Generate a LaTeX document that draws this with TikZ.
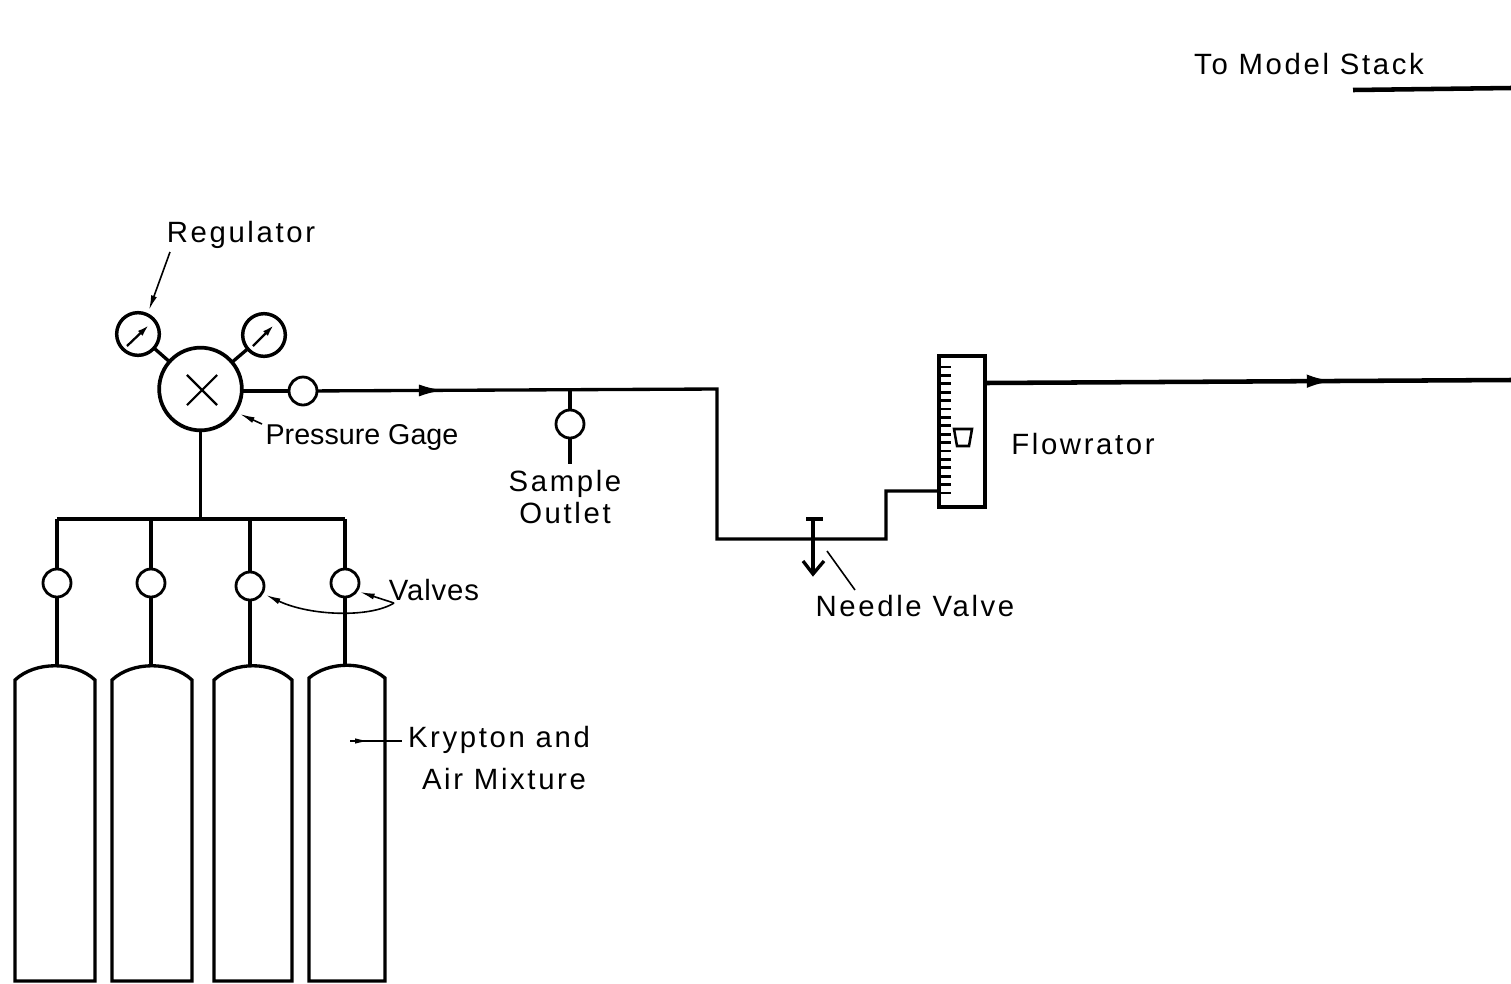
\documentclass[tikz,border=0pt]{standalone}
\usepackage{fontspec}
\setmainfont[LetterSpace=9]{Liberation Sans}
\usetikzlibrary{arrows.meta,shapes.misc,decorations.markings}
\tikzset{
  pipe/.style={line width=2.5pt},
  mainpipe/.style={line width=3.4pt},
  leader/.style={line width=1.2pt},
  leaderarrow/.style={line width=1.2pt,-{Latex[length=11pt,width=4.5pt]}},
  valvenode/.style={draw,circle,line width=2.1pt,minimum size=21pt,inner sep=0pt,outer sep=0pt},
  gaugenode/.style={draw,circle,line width=2.6pt,minimum size=32pt,inner sep=0pt,outer sep=0pt},
  needle/.style={line width=1.7pt,-{Latex[length=9pt,width=5pt]}},
  tickmark/.style={line width=2pt},
  labeltext/.style={font=\fontsize{22}{24}\selectfont,inner sep=0pt,align=center},
  flowmark/.style n args={3}{postaction={decorate},decoration={markings,mark=at position #1 with {\arrow{Latex[length=#2,width=#3]}}}}
}
\begin{document}
\begin{tikzpicture}[x=0.75pt,y=0.75pt,yscale=-1,xscale=1]
\useasboundingbox (0,0) rectangle (1511,983);

%Shape: Regulator and gages
\node [draw,circle,line width=2.8pt,minimum size=62pt,inner sep=0pt,outer sep=0pt] (regulator) at (200.5,389) {};
\node [draw,cross out,line width=1.6pt,minimum size=21pt,inner sep=0pt] (regcross) at (202,390) {};
\node [gaugenode] (gaugeL) at (138,334) {};
\node [gaugenode] (gaugeR) at (264,335) {};
\draw [pipe] (regulator) -- (gaugeL);
\draw [pipe] (regulator) -- (gaugeR);
\coordinate (needleLa) at (127,346);
\coordinate (needleLb) at (149,325);
\coordinate (needleRa) at (253,346);
\coordinate (needleRb) at (274,325);
\draw [needle] (needleLa) -- (needleLb);
\draw [needle] (needleRa) -- (needleRb);

%Shape: Outlet line
\node [valvenode] (valveOut) at (303,391) {};
\node [valvenode] (valveSample) at (570,424) {};
\coordinate (teeSample) at (570,389);
\coordinate (sampleEnd) at (570,464);
\coordinate (bendA) at (717,389);
\coordinate (bendB) at (717,539);
\coordinate (bendC) at (886,539);
\coordinate (bendD) at (886,491);
\coordinate (flowIn) at (940,491);
\draw [pipe] (regulator.east |- valveOut) -- (valveOut);
\draw [pipe,flowmark={0.155}{19pt}{9pt}] (valveOut) -- (bendA) -- (bendB) -- (bendC) -- (bendD) -- (flowIn);
\draw [pipe] (teeSample) -- (valveSample);
\draw [pipe] (valveSample) -- (sampleEnd);

%Shape: Needle valve
\coordinate (needleTop) at (813,519);
\coordinate (needleEnd) at (813,574);
\coordinate (needleBarL) at (806,519);
\coordinate (needleBarR) at (823,519);
\coordinate (needleHeadL) at (803,561);
\coordinate (needleHeadR) at (824,561);
\draw [pipe] (needleBarL) -- (needleBarR);
\draw [pipe] (needleTop) -- (needleEnd);
\draw [pipe] (needleHeadL) -- (needleEnd) -- (needleHeadR);

%Shape: Flowrator
\coordinate (flowTL) at (939,356);
\coordinate (flowBR) at (985,507);
\draw [line width=2.4pt] (flowTL) rectangle (flowBR);
\foreach \tickY in {367,375.4,...,494}
  \draw [tickmark] (940,\tickY) -- (951,\tickY);
\coordinate (floatA) at (954,429);
\coordinate (floatB) at (972,429);
\coordinate (floatC) at (969,446);
\coordinate (floatD) at (957,446);
\draw [line width=1.9pt] (floatA) -- (floatB) -- (floatC) -- (floatD) -- cycle;
\coordinate (flowOut) at (985,383);
\coordinate (stackEnd) at (1511,380);
\draw [mainpipe,flowmark={0.665}{21pt}{10pt}] (flowOut) -- (stackEnd);

%Shape: To stack line
\coordinate (stackA) at (1353,90);
\coordinate (stackB) at (1511,88);
\draw [mainpipe] (stackA) -- (stackB);

%Shape: Manifold
\coordinate (hdrA) at (57,519);
\coordinate (hdrB) at (151,519);
\coordinate (hdrC) at (250,519);
\coordinate (hdrD) at (345,519);
\coordinate (hdrTee) at (200.5,519);
\draw [pipe] (hdrA) -- (hdrD);
\draw [pipe] (regulator.south) -- (hdrTee);
\node [valvenode] (valveA) at (57,583) {};
\node [valvenode] (valveB) at (151,583) {};
\node [valvenode] (valveC) at (250,586) {};
\node [valvenode] (valveD) at (345,583) {};
\coordinate (bottleA) at (57,665);
\coordinate (bottleB) at (151,665);
\coordinate (bottleC) at (250,665);
\coordinate (bottleD) at (345,665);
\draw [pipe] (hdrA) -- (valveA) -- (bottleA);
\draw [pipe] (hdrB) -- (valveB) -- (bottleB);
\draw [pipe] (hdrC) -- (valveC) -- (bottleC);
\draw [pipe] (hdrD) -- (valveD) -- (bottleD);

%Shape: Cylinders
\draw [pipe] (15,981) -- (15,680) .. controls (35,661) and (75,661) .. (95,680) -- (95,981) -- cycle;
\draw [pipe] (112,981) -- (112,680) .. controls (132,661) and (172,661) .. (192,680) -- (192,981) -- cycle;
\draw [pipe] (214,981) -- (214,680) .. controls (234,661) and (272,661) .. (292,680) -- (292,981) -- cycle;
\draw [pipe] (309,981) -- (309,678) .. controls (329,661) and (365,661) .. (385,678) -- (385,981) -- cycle;

% Text Node
\node [labeltext] (regLabel) at (241,235) {Regulator};
% Text Node
\node [labeltext,font=\fontsize{21.5}{24}\selectfont\addfontfeature{LetterSpace=0}] (gageLabel) at (362,437) {Pressure Gage};
% Text Node
\node [labeltext] (sampleLabel) at (565,497) {Sample\\Outlet};
% Text Node
\node [labeltext,font=\fontsize{22}{24}\selectfont\addfontfeature{LetterSpace=3}] (valvesLabel) at (434,590) {Valves};
% Text Node
\node [labeltext] (needleLabel) at (915,606) {Needle Valve};
% Text Node
\node [labeltext] (flowLabel) at (1083,444) {Flowrator};
% Text Node
\node [labeltext] (kryptonLabel) at (499,740) {Krypton and};
% Text Node
\node [labeltext] (mixtureLabel) at (504,779) {Air Mixture};
% Text Node
\node [labeltext] (stackLabel) at (1309,64) {To Model Stack};

%Shape: Leaders
\coordinate (regTail) at (170,252);
\coordinate (regTip) at (149,310);
\coordinate (gageTail) at (262,424);
\coordinate (gageTip) at (240,414);
\coordinate (valvesFork) at (394,603);
\coordinate (valveTipC) at (266,595);
\coordinate (valveTipD) at (360,592);
\coordinate (needleLeadTail) at (855,590);
\coordinate (needleLeadTip) at (827,551);
\coordinate (kryptonTail) at (350,741);
\coordinate (kryptonTip) at (402,741);
\draw [leaderarrow] (regTail) -- (regTip);
\draw [leaderarrow] (gageTail) -- (gageTip);
\draw [leaderarrow] (valvesFork) .. controls (370,618) and (310,616) .. (valveTipC);
\draw [leaderarrow] (valvesFork) -- (valveTipD);
\draw [leader] (needleLeadTail) -- (needleLeadTip);
\draw [leader,flowmark={0.38}{11pt}{4pt}] (kryptonTail) -- (kryptonTip);

\end{tikzpicture}
\end{document}
